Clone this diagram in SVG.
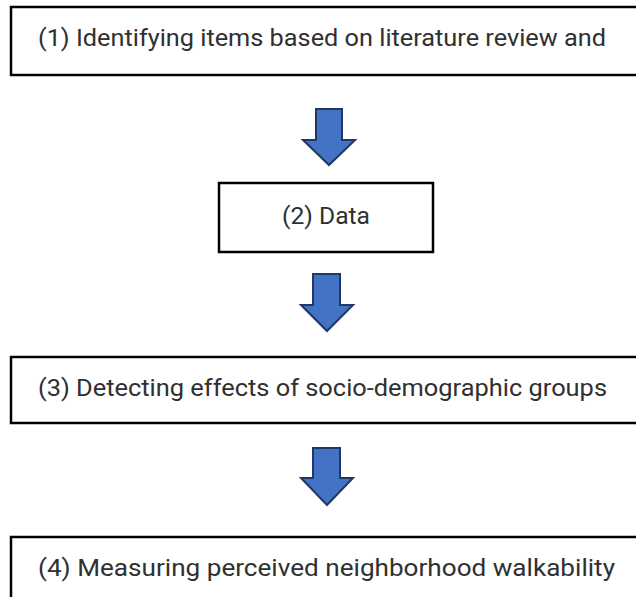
<svg xmlns="http://www.w3.org/2000/svg" width="636" height="597" viewBox="0 0 636 597">
<style>
.box{fill:#ffffff;stroke:#000000;stroke-width:2.5}
.lbl{font-family:"Roboto","Open Sans","Liberation Sans",sans-serif;font-size:23px;fill:#303030}
.arr{fill:#4472C4;stroke:#1F3864;stroke-width:2;stroke-linejoin:miter}
</style>
<rect width="636" height="597" fill="#ffffff"/>
<g id="node1">
<rect class="box" x="11" y="7" width="640" height="68"/>
<text class="lbl" x="38" y="46" textLength="568" lengthAdjust="spacingAndGlyphs">(1) Identifying items based on literature review and</text>
</g>
<g id="node2">
<rect class="box" x="219" y="183" width="214" height="69"/>
<text class="lbl" x="282" y="224" textLength="88" lengthAdjust="spacingAndGlyphs">(2) Data</text>
</g>
<g id="node3">
<rect class="box" x="11" y="357" width="640" height="66"/>
<text class="lbl" x="38" y="396" textLength="569" lengthAdjust="spacingAndGlyphs">(3) Detecting effects of socio-demographic groups</text>
</g>
<g id="node4">
<rect class="box" x="11" y="537" width="640" height="80"/>
<text class="lbl" x="38" y="576" textLength="577" lengthAdjust="spacingAndGlyphs">(4) Measuring perceived neighborhood walkability</text>
</g>
<g id="connectors">
<polygon class="arr" points="316,109 342,109 342,140 355,140 329,165 303,140 316,140"/>
<polygon class="arr" points="313,274 340,274 340,305 353,305 327,331 301,305 313,305"/>
<polygon class="arr" points="313,448 340,448 340,478 353,478 327,505 301,478 313,478"/>
</g>
</svg>
